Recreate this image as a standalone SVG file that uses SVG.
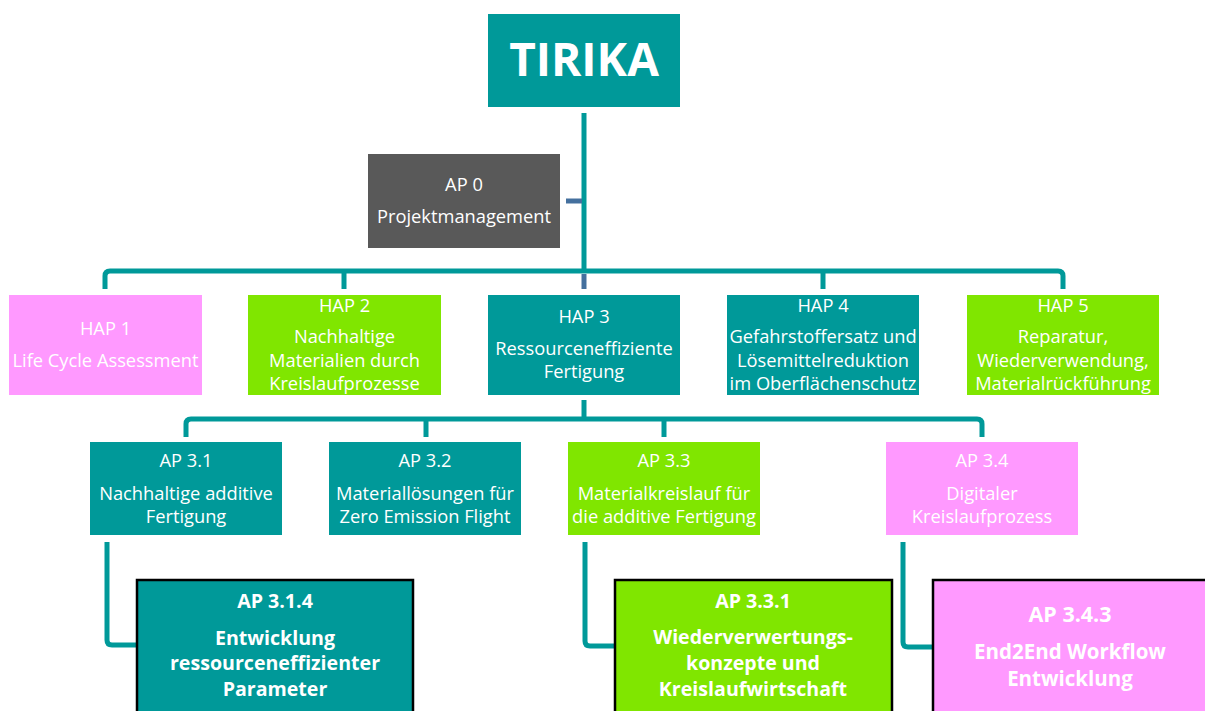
<svg xmlns="http://www.w3.org/2000/svg" width="1205" height="711" viewBox="0 0 1205 711">
<style>
.teal{fill:#009999}
.pink{fill:#FF99FF}
.green{fill:#80E600}
.grey{fill:#595959}
.t{font-family:"Open Sans","Liberation Sans",sans-serif;font-size:18.3px;fill:#fff;text-anchor:middle}
.b{font-weight:bold;font-size:19.6px}
.big{stroke:#000;stroke-width:2.5}
.c{fill:none;stroke:#009999;stroke-width:5;stroke-linejoin:round;stroke-linecap:butt}
.cb{fill:none;stroke:#44709E;stroke-width:5}
</style>
<rect width="1205" height="711" fill="#fff"/>
<g id="connectors">
<path class="c" d="M584,113 V271"/>
<path class="cb" d="M566,201 H582"/>
<path class="c" d="M105,289 V276 Q105,271 110,271 H1058 Q1063,271 1063,276 V289 M344,271 V289 M823,271 V289"/>
<path class="cb" d="M584,274 V289"/>
<path class="c" d="M584,400 V419"/>
<path class="c" d="M186,437 V424 Q186,419 191,419 H977 Q982,419 982,424 V437 M426,419 V437 M664,419 V437"/>
<path class="c" d="M107,542 V640 Q107,645 112,645 H137"/>
<path class="c" d="M585,542 V641 Q585,646 590,646 H615"/>
<path class="c" d="M903,542 V642 Q903,647 908,647 H933"/>
</g>
<g id="tirika">
<rect class="teal" x="488" y="14" width="192" height="93"/>
<text class="t" x="584" y="76" style="font-size:46px;font-weight:bold">TIRIKA</text>
</g>
<g id="ap0">
<rect class="grey" x="368" y="154" width="192" height="94"/>
<text class="t" x="464" y="191">AP 0</text>
<text class="t" x="464" y="223">Projektmanagement</text>
</g>
<g id="hap1">
<rect class="pink" x="9" y="295" width="193" height="100"/>
<text class="t" x="105.5" y="335">HAP 1</text>
<text class="t" x="105.5" y="367">Life Cycle Assessment</text>
</g>
<g id="hap2">
<rect class="green" x="248" y="295" width="193" height="100"/>
<text class="t" x="344.5" y="312">HAP 2</text>
<text class="t" x="344.5" y="343">Nachhaltige</text>
<text class="t" x="344.5" y="367">Materialien durch</text>
<text class="t" x="344.5" y="390">Kreislaufprozesse</text>
</g>
<g id="hap3">
<rect class="teal" x="488" y="295" width="192" height="100"/>
<text class="t" x="584" y="323">HAP 3</text>
<text class="t" x="584" y="355">Ressourceneffiziente</text>
<text class="t" x="584" y="378">Fertigung</text>
</g>
<g id="hap4">
<rect class="teal" x="727" y="295" width="192" height="100"/>
<text class="t" x="823" y="312">HAP 4</text>
<text class="t" x="823" y="343">Gefahrstoffersatz und</text>
<text class="t" x="823" y="367">Lösemittelreduktion</text>
<text class="t" x="823" y="390">im Oberflächenschutz</text>
</g>
<g id="hap5">
<rect class="green" x="967" y="295" width="192" height="100"/>
<text class="t" x="1063" y="312">HAP 5</text>
<text class="t" x="1063" y="343">Reparatur,</text>
<text class="t" x="1063" y="367">Wiederverwendung,</text>
<text class="t" x="1063" y="390">Materialrückführung</text>
</g>
<g id="ap31">
<rect class="teal" x="90" y="442" width="192" height="93"/>
<text class="t" x="186" y="467">AP 3.1</text>
<text class="t" x="186" y="500">Nachhaltige additive</text>
<text class="t" x="186" y="523">Fertigung</text>
</g>
<g id="ap32">
<rect class="teal" x="329" y="442" width="192" height="93"/>
<text class="t" x="425" y="467">AP 3.2</text>
<text class="t" x="425" y="500">Materiallösungen für</text>
<text class="t" x="425" y="523">Zero Emission Flight</text>
</g>
<g id="ap33">
<rect class="green" x="568" y="442" width="192" height="93"/>
<text class="t" x="664" y="467">AP 3.3</text>
<text class="t" x="664" y="500">Materialkreislauf für</text>
<text class="t" x="664" y="523">die additive Fertigung</text>
</g>
<g id="ap34">
<rect class="pink" x="886" y="442" width="192" height="93"/>
<text class="t" x="982" y="467">AP 3.4</text>
<text class="t" x="982" y="500">Digitaler</text>
<text class="t" x="982" y="523">Kreislaufprozess</text>
</g>
<g id="ap314">
<rect class="teal big" x="137" y="580" width="276" height="150"/>
<text class="t b" x="275" y="608">AP 3.1.4</text>
<text class="t b" x="275" y="645">Entwicklung</text>
<text class="t b" x="275" y="670">ressourceneffizienter</text>
<text class="t b" x="275" y="696">Parameter</text>
</g>
<g id="ap331">
<rect class="green big" x="615" y="580" width="277" height="150"/>
<text class="t b" x="753" y="608">AP 3.3.1</text>
<text class="t b" x="753" y="644">Wiederverwertungs-</text>
<text class="t b" x="753" y="670">konzepte und</text>
<text class="t b" x="753" y="696">Kreislaufwirtschaft</text>
</g>
<g id="ap343">
<rect class="pink big" x="933" y="580" width="276" height="150"/>
<text class="t b" x="1070" y="622" style="font-size:21.5px">AP 3.4.3</text>
<text class="t b" x="1070" y="659" style="font-size:20.5px">End2End Workflow</text>
<text class="t b" x="1070" y="686" style="font-size:20.5px">Entwicklung</text>
</g>
</svg>
